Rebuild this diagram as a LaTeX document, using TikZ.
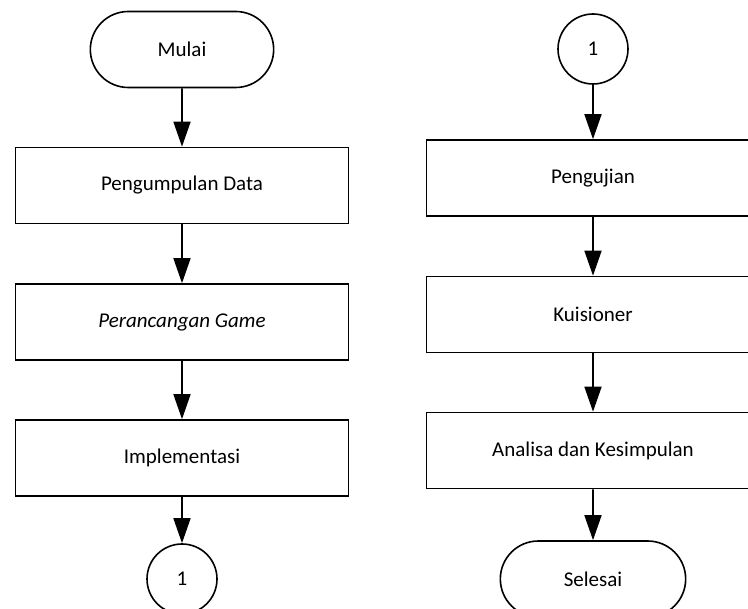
\documentclass[tikz,border=0pt]{standalone}
\usepackage{fontspec}
\setmainfont{Carlito}
\usetikzlibrary{arrows.meta, positioning, shapes.misc}
\tikzset{
    process/.style={draw, rectangle, line width=1.6pt, minimum width=333pt, minimum height=76pt, inner sep=0pt},
    terminal/.style={draw, rounded rectangle, line width=1.6pt, minimum width=190pt, minimum height=76pt},
    connector/.style={draw, circle, line width=1.6pt, minimum size=70pt, inner sep=0pt},
    flow/.style={-{Triangle[length=25pt, width=17pt]}, line width=1.6pt}
}

\begin{document}
\begin{tikzpicture}[x=1pt, y=-1pt, font=\fontsize{21}{25}\selectfont]
    % Page frame
    \useasboundingbox (0,0) rectangle (748,609);
    \clip (0,0) rectangle (748,609);
    % Left column
    \node[terminal] (mulai) at (182,49.5) {Mulai};
    \node[process] (kumpul) at (182,185.5) {Pengumpulan Data};
    \node[process] (rancang) at (182,322) {\textit{Perancangan Game}};
    \node[process] (impl) at (182,458) {Implementasi};
    \node[connector] (conA) at (182,579) {1};
    % Right column
    \node[connector] (conB) at (593,49) {1};
    \node[process] (uji) at (593,178) {Pengujian};
    \node[process] (kuis) at (593,314.5) {Kuisioner};
    \node[process] (analisa) at (593,450.5) {Analisa dan Kesimpulan};
    \node[terminal, minimum width=192pt] (selesai) at (593,579) {Selesai};
    % Arrows
    \draw[flow] (mulai) -- (kumpul);
    \draw[flow] (kumpul) -- (rancang);
    \draw[flow] (rancang) -- (impl);
    \draw[flow] (impl) -- (conA);
    \draw[flow] (conB) -- (uji);
    \draw[flow] (uji) -- (kuis);
    \draw[flow] (kuis) -- (analisa);
    \draw[flow] (analisa) -- (selesai);
\end{tikzpicture}
\end{document}
